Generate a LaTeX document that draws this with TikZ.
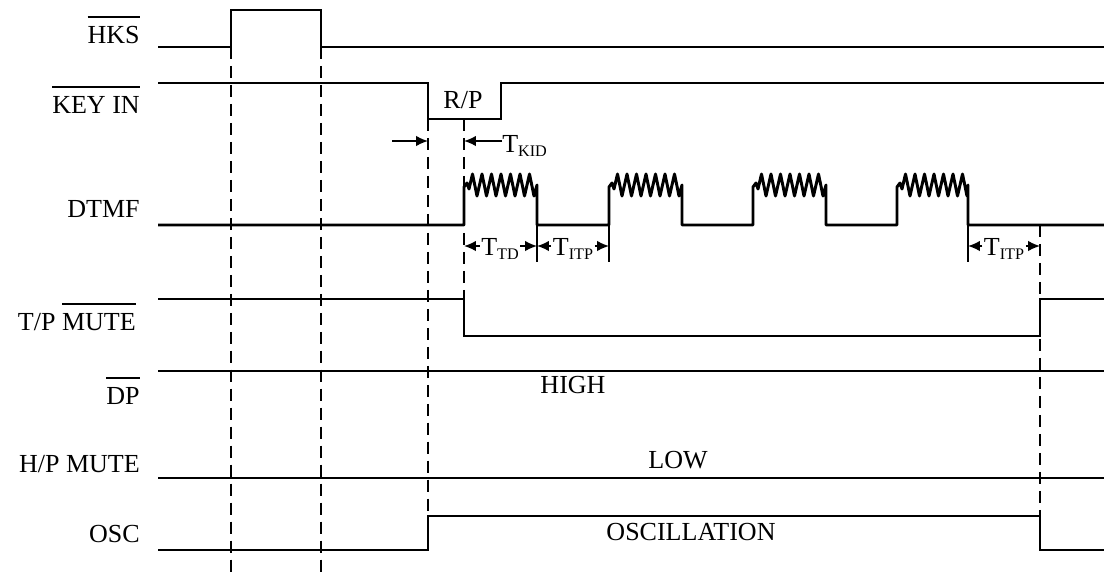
\documentclass[tikz,border=0pt]{standalone}
\usepackage{fontspec}
\setmainfont{Liberation Serif}
\usepackage{tikz}
\usetikzlibrary{arrows.meta,positioning}
\usetikzlibrary{calc}

% signal name with a bar over it
\newcommand{\barred}[1]{\setbox0=\hbox{#1}\rlap{\rule[18pt]{\wd0}{0.9pt}}\box0}
% T with a small lowered index
\newcommand{\tsub}[2]{#1\raisebox{-3.5pt}{\fontsize{11.5}{12}\selectfont #2}}

\tikzset{
  sig/.style={line width=2.1pt},
  guide/.style={line width=1.4pt, dash pattern=on 8.5pt off 5pt},
  tick/.style={line width=0.8pt},
  dimarrow/.style={line width=1.1pt, -{Latex[length=8.5pt,width=7.5pt]}},
  lbl/.style={anchor=base east, inner sep=0pt},
  txt/.style={anchor=base, inner sep=0pt},
}

\begin{document}
\begin{tikzpicture}[x=0.025cm,y=-0.025cm,font=\fontsize{18.5}{22}\selectfont]
\useasboundingbox (0,0) rectangle (1104,574);
% signal names
\node[lbl] (hks) at (140,43) {\barred{HKS}};
\node[lbl] (keyin) at (140,113) {\barred{KEY IN}};
\node[lbl] (dtmf) at (140,217) {DTMF};
\node[lbl] (tpmute) at (136,330) {T/P \barred{MUTE}};
\node[lbl] (dp) at (140,404) {\barred{DP}};
\node[lbl] (hpmute) at (140,472) {H/P MUTE};
\node[lbl] (osc) at (140,542) {OSC};
% dashed guides
\draw[guide] (231,47) -- (231,574);
\draw[guide] (321,47) -- (321,574);
\draw[guide] (428,119) -- (428,516);
\draw[guide] (464,119) -- (464,299);
\draw[guide] (1040,225) -- (1040,516);
% waveforms
\draw[sig] (158,47) -- (231,47) -- (231,10) -- (321,10) -- (321,47) -- (1104,47);
\draw[sig] (158,83) -- (428,83) -- (428,119) -- (501,119) -- (501,83) -- (1104,83);
\draw[sig,line join=round] (158,225)
  \foreach \s/\e in {464/537,609/682,753/826,897/968}{
    -- (\s,225) -- (\s,187) -- ({\s+3},183) -- ({\s+5},189)
    \foreach \k in {0,...,6}{ -- ({\s+8.5+9.5*\k},174) -- ({\s+13+9.5*\k},196) }
    -- (\e,185) -- (\e,225) }
  -- (1104,225);
\draw[sig] (158,299) -- (464,299) -- (464,336) -- (1040,336) -- (1040,299) -- (1104,299);
\draw[sig] (158,371) -- (1104,371);
\draw[sig] (158,478) -- (1104,478);
\draw[sig] (158,550) -- (428,550) -- (428,516) -- (1040,516) -- (1040,550) -- (1104,550);
% texts on the waveforms
\node[txt] (rp) at (463,108) {R/P};
\node[txt] (high) at (573,393) {HIGH};
\node[txt] (low) at (678,468) {LOW};
\node[txt] (oscil) at (691,540) {OSCILLATION};
% key in delay
\coordinate (kidA) at (392,141);
\coordinate (kidB) at (428,141);
\coordinate (kidC) at (464,141);
\node[anchor=base west, inner sep=0pt] (kid) at (502,152) {\tsub{T}{KID}};
\draw[dimarrow] (kidA) -- (kidB);
\draw[dimarrow] (kid.west |- kidC) -- (kidC);
% tone and pause times
\draw[tick] (537,225) -- (537,262);
\draw[tick] (609,225) -- (609,262);
\draw[tick] (968,225) -- (968,262);
\coordinate (td1) at (464,246);
\coordinate (td2) at (537,246);
\coordinate (ip2) at (609,246);
\coordinate (ip3) at (968,246);
\coordinate (ip4) at (1040,246);
\node[txt, inner sep=1pt] (ttd) at (500,255) {\tsub{T}{TD}};
\node[txt, inner sep=1pt] (titp) at (573,255) {\tsub{T}{ITP}};
\node[txt, inner sep=1pt] (titp2) at (1004,255) {\tsub{T}{ITP}};
\draw[dimarrow] (ttd.west |- td1) -- (td1);
\draw[dimarrow] (ttd.east |- td2) -- (td2);
\draw[dimarrow] (titp.west |- td2) -- (td2);
\draw[dimarrow] (titp.east |- ip2) -- (ip2);
\draw[dimarrow] (titp2.west |- ip3) -- (ip3);
\draw[dimarrow] (titp2.east |- ip4) -- (ip4);
\end{tikzpicture}
\end{document}
